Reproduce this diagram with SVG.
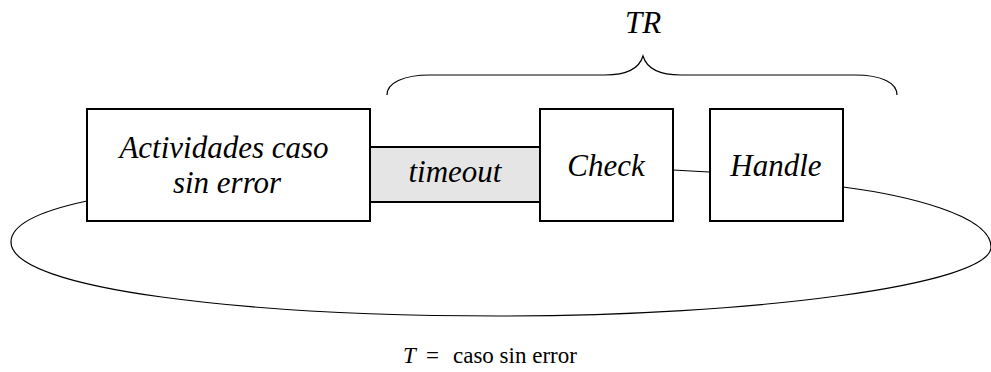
<svg xmlns="http://www.w3.org/2000/svg" width="991" height="372" viewBox="0 0 991 372">
<style>
.box{fill:#fff;stroke:#000;stroke-width:2}
.gray{fill:#e5e5e5;stroke:#000;stroke-width:2}
.line{fill:none;stroke:#000;stroke-width:1.2}
.lbl{font-family:'Liberation Serif','Times New Roman','DejaVu Serif',serif;font-style:italic;font-size:31px;fill:#000;text-anchor:middle}
.note{font-family:'Liberation Serif','Times New Roman','DejaVu Serif',serif;font-size:23px;fill:#000}
</style>
<rect width="991" height="372" fill="#fff"/>
<g id="connectors">
<path class="line" d="M87,201 C40,211 11,224 11,242 C11,290 250,316 500,316 C750,316 991,285 991,247 C991,215 905,195 843,187"/>
<path class="line" d="M673,170 L709,172"/>
<path class="line" d="M387,95 C387,83 403,75 430,75 L605,75 C630,75 640,66 643,56 C646,66 656,75 681,75 L855,75 C882,75 897,83 897,95"/>
</g>
<g id="timeout">
<rect class="gray" x="370" y="147" width="170" height="55"/>
<text class="lbl" x="455" y="182">timeout</text>
</g>
<g id="actividades">
<rect class="box" x="87" y="109" width="283" height="112"/>
<text class="lbl" x="224" y="158">Actividades caso</text>
<text class="lbl" x="227" y="193">sin error</text>
</g>
<g id="check">
<rect class="box" x="540" y="109" width="133" height="112"/>
<text class="lbl" x="606" y="176">Check</text>
</g>
<g id="handle">
<rect class="box" x="710" y="109" width="133" height="112"/>
<text class="lbl" x="776" y="176">Handle</text>
</g>
<g id="tr">
<text class="lbl" x="643" y="33">TR</text>
</g>
<g id="legend">
<text class="note" x="403" y="363"><tspan font-style="italic">T</tspan><tspan x="426">=</tspan><tspan x="453">caso sin error</tspan></text>
</g>
</svg>
